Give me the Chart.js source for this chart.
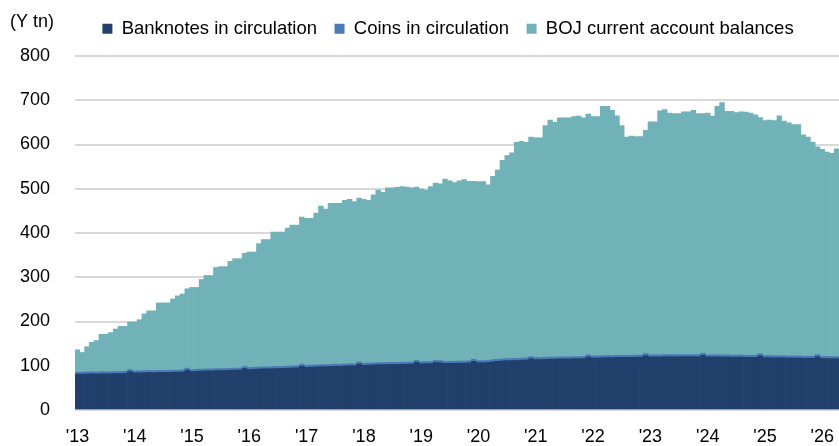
<!DOCTYPE html>
<html lang="en">
<head>
  <meta charset="UTF-8">
  <title>BOJ monetary base</title>
  <script src="https://cdn.jsdelivr.net/npm/chart.js@4.4.1/dist/chart.umd.min.js"></script>
  <style>
    html, body { margin: 0; padding: 0; background: #fff; }
  </style>
</head>
<body>
  <canvas id="myChart" width="839" height="446"></canvas>

  <script>
    // x axis tick labels, one per year (Jan 2013 .. Apr 2026, monthly bars)
    const years = ["'13", "'14", "'15", "'16", "'17", "'18", "'19", "'20", "'21", "'22", "'23", "'24", "'25", "'26"];

    // top of the stack = monetary base (Y tn)
    const monetaryBase = [
      136, 130, 143, 153, 157, 171, 171, 175, 183, 189, 189, 199, // 2013
      199, 204, 217, 224, 224, 242, 242, 242, 251, 258, 262, 274, // 2014
      277, 277, 295, 304, 304, 322, 324, 324, 336, 342, 342, 354, // 2015
      357, 357, 376, 385, 385, 402, 402, 402, 411, 418, 418, 436, // 2016
      433, 433, 445, 461, 454, 467, 467, 467, 474, 476, 471, 479, // 2017
      476, 474, 486, 497, 492, 502, 502, 503, 505, 504, 502, 504, // 2018
      499, 497, 505, 513, 511, 522, 518, 514, 518, 521, 517, 517, // 2019
      516, 516, 509, 528, 542, 564, 575, 581, 605, 607, 605, 617, // 2020
      615, 615, 643, 655, 650, 660, 660, 660, 663, 664, 660, 669, // 2021
      663, 663, 686, 686, 677, 665, 643, 617, 619, 618, 618, 632, // 2022
      651, 651, 676, 679, 671, 670, 670, 674, 674, 677, 670, 670, // 2023
      671, 664, 686, 695, 675, 675, 672, 674, 673, 671, 667, 661, // 2024
      654, 655, 654, 665, 653, 649, 645, 645, 622, 617, 605, 595, // 2025
      589, 583, 580, 590                                          // 2026
    ];

    const banknotes = [
      81, 81, 81.5, 82, 81.5, 82, 82, 82, 82.5, 82.5, 83, 87,
      84, 84, 84.5, 85, 84.5, 85, 85, 85, 85.5, 85.5, 86, 90,
      87, 87.5, 88, 88.5, 88.5, 89, 89, 89.5, 90, 90, 90.5, 94,
      91.5, 92, 92.5, 93, 93, 93.5, 94, 94, 94.5, 95, 95.5, 99,
      96.5, 97, 97.5, 98, 98, 98.5, 99, 99, 99.5, 100, 100, 104,
      101, 101.5, 102, 102.5, 102.5, 103, 103, 103, 103.5, 103.5, 104, 108,
      104.5, 105, 105, 107.5, 107, 105.5, 105.5, 105.5, 106, 106, 106.5, 110,
      107, 107, 107.5, 109, 110, 111, 111.5, 112, 112, 112.5, 113, 116,
      114, 114, 114.5, 115, 115, 115.5, 115.5, 115.5, 116, 116, 116.5, 120,
      117.5, 117.5, 118, 118.5, 118.5, 119, 119, 119, 119, 119.5, 119.5, 123,
      120, 120, 120, 120.5, 120.5, 120.5, 120.5, 120.5, 120.5, 120.5, 120.5, 123.5,
      120, 120, 120, 120, 120, 119.5, 119.5, 119.5, 119, 119, 119, 122.5,
      118.5, 118.5, 118, 118, 118, 117.5, 117.5, 117.5, 117, 117, 117, 120.5,
      116.5, 116.5, 116, 116
    ];

    const coins = [
      4.5, 4.5, 4.5, 4.5, 4.5, 4.5, 4.5, 4.5, 4.5, 4.5, 4.5, 4.6,
      4.5, 4.5, 4.5, 4.5, 4.5, 4.5, 4.5, 4.5, 4.5, 4.5, 4.5, 4.6,
      4.5, 4.5, 4.5, 4.5, 4.5, 4.5, 4.5, 4.5, 4.5, 4.5, 4.5, 4.6,
      4.6, 4.6, 4.6, 4.6, 4.6, 4.6, 4.6, 4.6, 4.6, 4.6, 4.6, 4.7,
      4.6, 4.6, 4.6, 4.6, 4.6, 4.6, 4.6, 4.6, 4.6, 4.6, 4.6, 4.7,
      4.6, 4.6, 4.6, 4.6, 4.6, 4.6, 4.6, 4.6, 4.6, 4.6, 4.6, 4.7,
      4.7, 4.7, 4.7, 4.7, 4.7, 4.7, 4.7, 4.7, 4.7, 4.7, 4.7, 4.8,
      4.7, 4.7, 4.7, 4.7, 4.7, 4.7, 4.7, 4.7, 4.7, 4.7, 4.7, 4.8,
      4.7, 4.7, 4.7, 4.7, 4.7, 4.7, 4.7, 4.7, 4.7, 4.7, 4.7, 4.8,
      4.7, 4.7, 4.7, 4.7, 4.7, 4.7, 4.7, 4.7, 4.7, 4.7, 4.7, 4.8,
      4.7, 4.7, 4.7, 4.7, 4.7, 4.7, 4.7, 4.7, 4.7, 4.7, 4.7, 4.8,
      4.7, 4.7, 4.7, 4.7, 4.7, 4.7, 4.7, 4.7, 4.7, 4.7, 4.7, 4.8,
      4.7, 4.7, 4.7, 4.7, 4.7, 4.7, 4.7, 4.7, 4.7, 4.7, 4.7, 4.8,
      4.7, 4.7, 4.7, 4.7
    ];

    // current account balances = what is left of the base above notes + coins
    const currentAccount = monetaryBase.map((v, i) => v - banknotes[i] - coins[i]);

    const months = monetaryBase.map((v, i) => (2013 + Math.floor(i / 12)) + '-' + (i % 12 + 1));

    const FONT = '"Liberation Sans", Arial, sans-serif';

    const unitLabel = {
      id: 'unitLabel',
      afterLayout(chart) {
        // legend sits a little left of the plot centre in the original
        chart.legend.left -= 9;
        chart.legend.right -= 9;
      },
      afterDraw(chart) {
        const c = chart.ctx;
        c.save();
        c.font = '18px ' + FONT;
        c.fillStyle = '#000';
        c.textBaseline = 'middle';
        c.fillText('(Y tn)', 10, 22);
        c.restore();
      }
    };

    const ctx = document.getElementById('myChart');
    const myChart = new Chart(ctx, {
      type: 'bar',
      data: {
        labels: months,
        datasets: [{
          label: 'Banknotes in circulation',
          data: banknotes,
          backgroundColor: '#213F6B'
        }, {
          label: 'Coins in circulation',
          data: coins,
          backgroundColor: '#4A7BB7'
        }, {
          label: 'BOJ current account balances',
          data: currentAccount,
          backgroundColor: '#71B2B8'
        }]
      },
      options: {
        responsive: false,
        animation: false,
        devicePixelRatio: 1,
        layout: { padding: { top: 2, left: 20, right: 0, bottom: 0 } },
        datasets: {
          bar: { barPercentage: 1, categoryPercentage: 1, borderWidth: 0 }
        },
        plugins: {
          tooltip: { enabled: false },
          legend: {
            position: 'top',
            fullSize: false,
            labels: {
              boxWidth: 10,
              boxHeight: 10,
              padding: 17.5,
              color: '#000',
              font: { family: FONT, size: 18.5 }
            }
          },
          // empty spacer between legend and plot
          subtitle: {
            display: true,
            text: '',
            weight: 500,
            font: { size: 1, lineHeight: 1 },
            padding: { top: 0, bottom: 7 }
          }
        },
        scales: {
          x: {
            stacked: true,
            grid: { display: false, drawTicks: true, tickLength: 18 },
            border: { display: false },
            ticks: {
              autoSkip: false,
              maxRotation: 0,
              padding: 0,
              color: '#000',
              font: { family: FONT, size: 18, lineHeight: 1 },
              callback: (val, i) => (i % 12 === 0 ? years[i / 12] : '')
            }
          },
          y: {
            stacked: true,
            min: 0,
            max: 800,
            grid: { color: '#D9D9D9', lineWidth: 2, drawTicks: true, tickLength: 25, tickColor: 'rgba(0,0,0,0)' },
            border: { display: false },
            ticks: {
              stepSize: 100,
              padding: 0,
              color: '#000',
              font: { family: FONT, size: 18 }
            }
          }
        }
      },
      plugins: [unitLabel]
    });
  </script>
</body>
</html>
